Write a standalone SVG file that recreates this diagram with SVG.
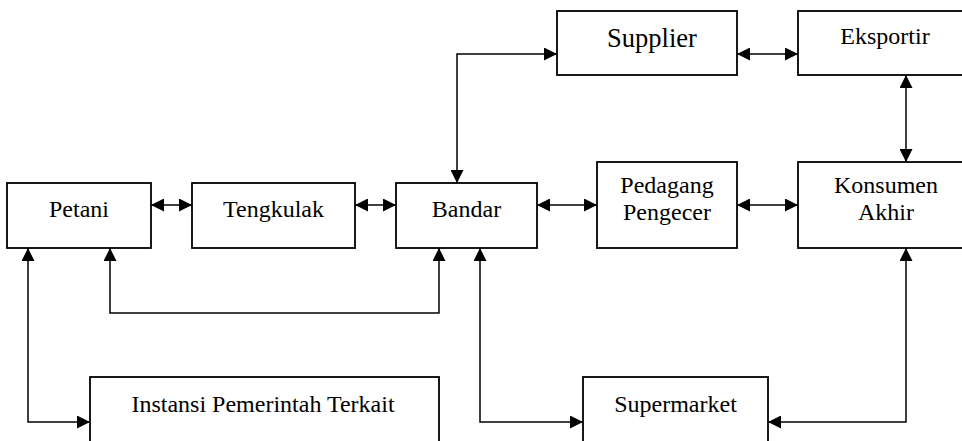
<svg xmlns="http://www.w3.org/2000/svg" width="962" height="441" viewBox="0 0 962 441">
<style>
.box{fill:#fff;stroke:#000;stroke-width:1.8}
.lbl{font-family:'Liberation Serif',serif;font-size:24px;fill:#000;text-anchor:middle}
.big{font-size:26.5px}
.con{fill:none;stroke:#000;stroke-width:1.5}
</style>
<defs>
<marker id="ah" markerUnits="userSpaceOnUse" markerWidth="13" markerHeight="13" refX="13" refY="6.5" orient="auto-start-reverse" viewBox="0 0 13 13">
<path d="M0,0 L13,6.5 L0,13 z" fill="#000"/>
</marker>
</defs>
<rect width="962" height="441" fill="#fff"/>
<g id="connectors">
<line class="con" x1="151" y1="205" x2="192" y2="205" marker-start="url(#ah)" marker-end="url(#ah)"/>
<line class="con" x1="355" y1="205" x2="396" y2="205" marker-start="url(#ah)" marker-end="url(#ah)"/>
<line class="con" x1="537" y1="205" x2="597" y2="205" marker-start="url(#ah)" marker-end="url(#ah)"/>
<line class="con" x1="737" y1="205" x2="798" y2="205" marker-start="url(#ah)" marker-end="url(#ah)"/>
<line class="con" x1="737" y1="54" x2="798" y2="54" marker-start="url(#ah)" marker-end="url(#ah)"/>
<line class="con" x1="906" y1="75" x2="906" y2="162" marker-start="url(#ah)" marker-end="url(#ah)"/>
<path class="con" d="M457,183 L457,54 L557,54" marker-start="url(#ah)" marker-end="url(#ah)"/>
<path class="con" d="M110,248 L110,313 L439,313 L439,248" marker-start="url(#ah)" marker-end="url(#ah)"/>
<path class="con" d="M28,248 L28,422 L90,422" marker-start="url(#ah)" marker-end="url(#ah)"/>
<path class="con" d="M480,248 L480,422 L583,422" marker-start="url(#ah)" marker-end="url(#ah)"/>
<path class="con" d="M906,248 L906,422 L768,422" marker-start="url(#ah)" marker-end="url(#ah)"/>
</g>
<g id="petani"><rect class="box" x="7" y="183" width="144" height="65"/><text class="lbl" x="79" y="217">Petani</text></g>
<g id="tengkulak"><rect class="box" x="192" y="183" width="163" height="65"/><text class="lbl" x="273.5" y="217">Tengkulak</text></g>
<g id="bandar"><rect class="box" x="396" y="183" width="141" height="65"/><text class="lbl" x="466.5" y="217">Bandar</text></g>
<g id="pedagang"><rect class="box" x="597" y="162" width="140" height="86"/><text class="lbl" x="667" y="193">Pedagang</text><text class="lbl" x="667" y="220">Pengecer</text></g>
<g id="konsumen"><rect class="box" x="798" y="162" width="180" height="86"/><text class="lbl" x="886" y="193">Konsumen</text><text class="lbl" x="886" y="220">Akhir</text></g>
<g id="supplier"><rect class="box" x="557" y="11" width="180" height="64"/><text class="lbl big" x="652" y="47">Supplier</text></g>
<g id="eksportir"><rect class="box" x="798" y="11" width="180" height="64"/><text class="lbl" x="885" y="44">Eksportir</text></g>
<g id="instansi"><rect class="box" x="90" y="377" width="349" height="80"/><text class="lbl" x="263" y="412">Instansi Pemerintah Terkait</text></g>
<g id="supermarket"><rect class="box" x="583" y="377" width="185" height="80"/><text class="lbl" x="675.5" y="412">Supermarket</text></g>
</svg>
